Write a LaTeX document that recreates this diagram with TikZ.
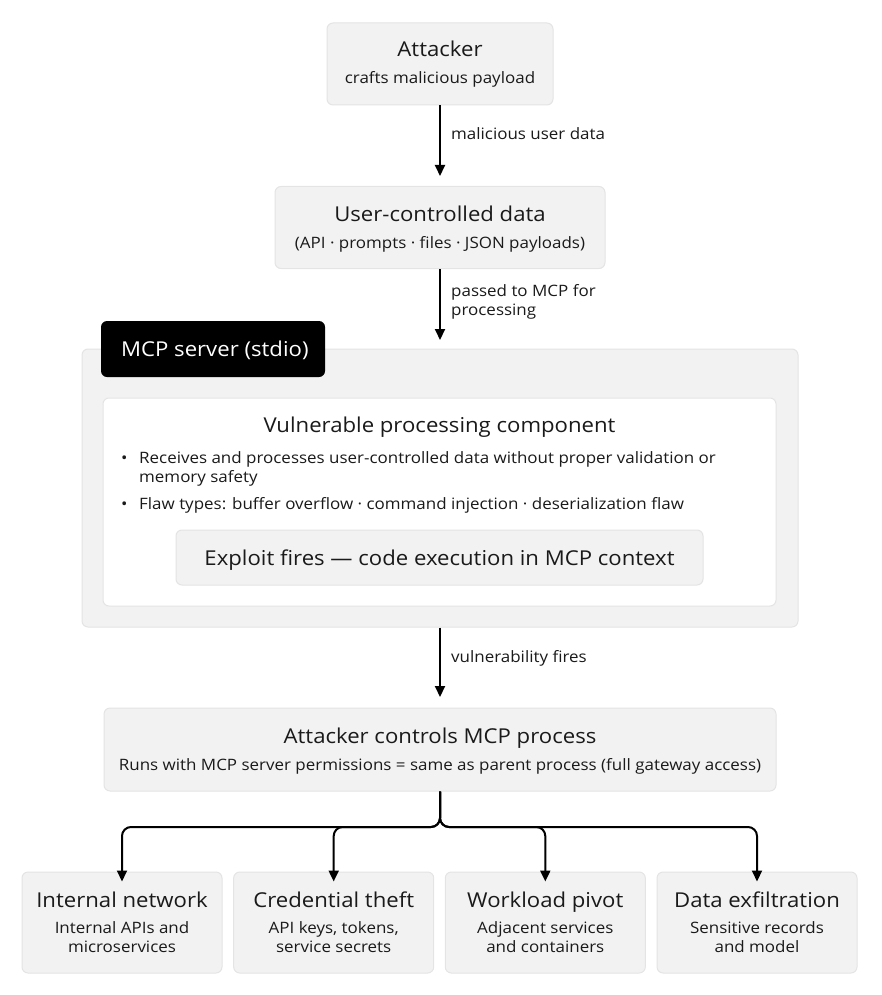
\documentclass[tikz,border=0pt]{standalone}
\usepackage{fontspec}
\setmainfont{Open Sans}[FakeStretch=1.08]
\usetikzlibrary{arrows.meta}
\definecolor{boxfill}{HTML}{F2F2F2}
\definecolor{boxline}{HTML}{E4E4E4}
\definecolor{ink}{HTML}{1A1A1A}
\tikzset{
  box/.style={draw=boxline, line width=1pt, fill=boxfill, rounded corners=6pt, inner sep=0pt},
  whitebox/.style={draw=boxline, line width=1pt, fill=white, rounded corners=6pt, inner sep=0pt},
  tabbox/.style={fill=black, rounded corners=6pt, inner sep=0pt},
  ttl/.style={anchor=base, inner sep=0pt, text=ink, font=\fontsize{20.5}{24}\selectfont},
  sub/.style={anchor=base, inner sep=0pt, text=ink, font=\fontsize{15.7}{19}\selectfont},
  lbl/.style={anchor=base west, inner sep=0pt, text=ink, font=\fontsize{15.7}{19}\selectfont},
  flow/.style={line width=2pt, draw=black, -{Triangle[length=11pt,width=10pt]}},
  fork/.style={line width=2pt, draw=black, rounded corners=9pt, -{Triangle[length=11pt,width=10pt]}}
}
\begin{document}
\begin{tikzpicture}[x=1pt,y=-1pt]
\useasboundingbox (0,0) rectangle (881,995);
% Attacker
\node[box, minimum width=226pt, minimum height=82pt] (att) at (440,64) {};
\node[ttl] (attT) at (440,57) {Attacker};
\node[sub] (attS) at (440,84) {crafts malicious payload};
% User-controlled data
\node[box, minimum width=330pt, minimum height=82pt] (ucd) at (440,227.5) {};
\node[ttl] (ucdT) at (440,222) {User-controlled data};
\node[sub] (ucdS) at (440,248) {(API · prompts · files · JSON payloads)};
% MCP container
\node[box, minimum width=716pt, minimum height=278pt] (mcp) at (440,488) {};
\node[tabbox, minimum width=224pt, minimum height=56pt] (tab) at (213,349) {};
\node[anchor=base west, inner sep=0pt, text=white, font=\fontsize{20.5}{24}\selectfont] (tabT) at (121,356) {MCP server (stdio)};
\node[whitebox, minimum width=673pt, minimum height=208pt] (vpc) at (439.5,502) {};
\node[ttl] (vpcT) at (439.5,432) {Vulnerable processing component};
\node[lbl] (b1) at (121,463) {•};
\node[lbl] (l1) at (139,463) {Receives and processes user-controlled data without proper validation or};
\node[lbl] (l2) at (139,482) {memory safety};
\node[lbl] (b2) at (121,509) {•};
\node[lbl] (l3) at (139,509) {Flaw types: buffer overflow · command injection · deserialization flaw};
\node[box, minimum width=527pt, minimum height=55pt] (exp) at (439.5,557.5) {};
\node[ttl] (expT) at (439.5,565) {Exploit fires — code execution in MCP context};
% Attacker controls
\node[box, minimum width=672pt, minimum height=83pt] (ctl) at (440,749.5) {};
\node[ttl] (ctlT) at (440,743) {Attacker controls MCP process};
\node[sub] (ctlS) at (440,770) {Runs with MCP server permissions = same as parent process (full gateway access)};
% bottom boxes
\node[box, minimum width=200pt, minimum height=101pt] (net) at (122,922.5) {};
\node[box, minimum width=200pt, minimum height=101pt] (cred) at (333.7,922.5) {};
\node[box, minimum width=200pt, minimum height=101pt] (pivot) at (545.3,922.5) {};
\node[box, minimum width=200pt, minimum height=101pt] (exf) at (757,922.5) {};
\node[ttl] (netT) at (122,907) {Internal network};
\node[sub] (netS1) at (122,933) {Internal APIs and};
\node[sub] (netS2) at (122,952) {microservices};
\node[ttl] (credT) at (333.7,907) {Credential theft};
\node[sub] (credS1) at (333.7,933) {API keys, tokens,};
\node[sub] (credS2) at (333.7,952) {service secrets};
\node[ttl] (pivT) at (545.3,907) {Workload pivot};
\node[sub] (pivS1) at (545.3,933) {Adjacent services};
\node[sub] (pivS2) at (545.3,952) {and containers};
\node[ttl] (exfT) at (757,907) {Data exfiltration};
\node[sub] (exfS1) at (757,933) {Sensitive records};
\node[sub] (exfS2) at (757,952) {and model};
% arrows
\draw[flow] (att.south) -- (ucd.north |- 0,176) coordinate (a1);
\node[lbl] (e1) at (451,140) {malicious user data};
\draw[flow] (ucd.south) -- (440,340) coordinate (a2);
\node[lbl] (e2a) at (451,296) {passed to MCP for};
\node[lbl] (e2b) at (451,315) {processing};
\draw[flow] (mcp.south) -- (440,697) coordinate (a3);
\node[lbl] (e3) at (451,662) {vulnerability fires};
% fork
\foreach \t in {net,cred,pivot,exf}{
  \draw[fork] (ctl.south) -- (440,827) -| ([yshift=-10pt]\t.north);
}
\end{tikzpicture}
\end{document}
